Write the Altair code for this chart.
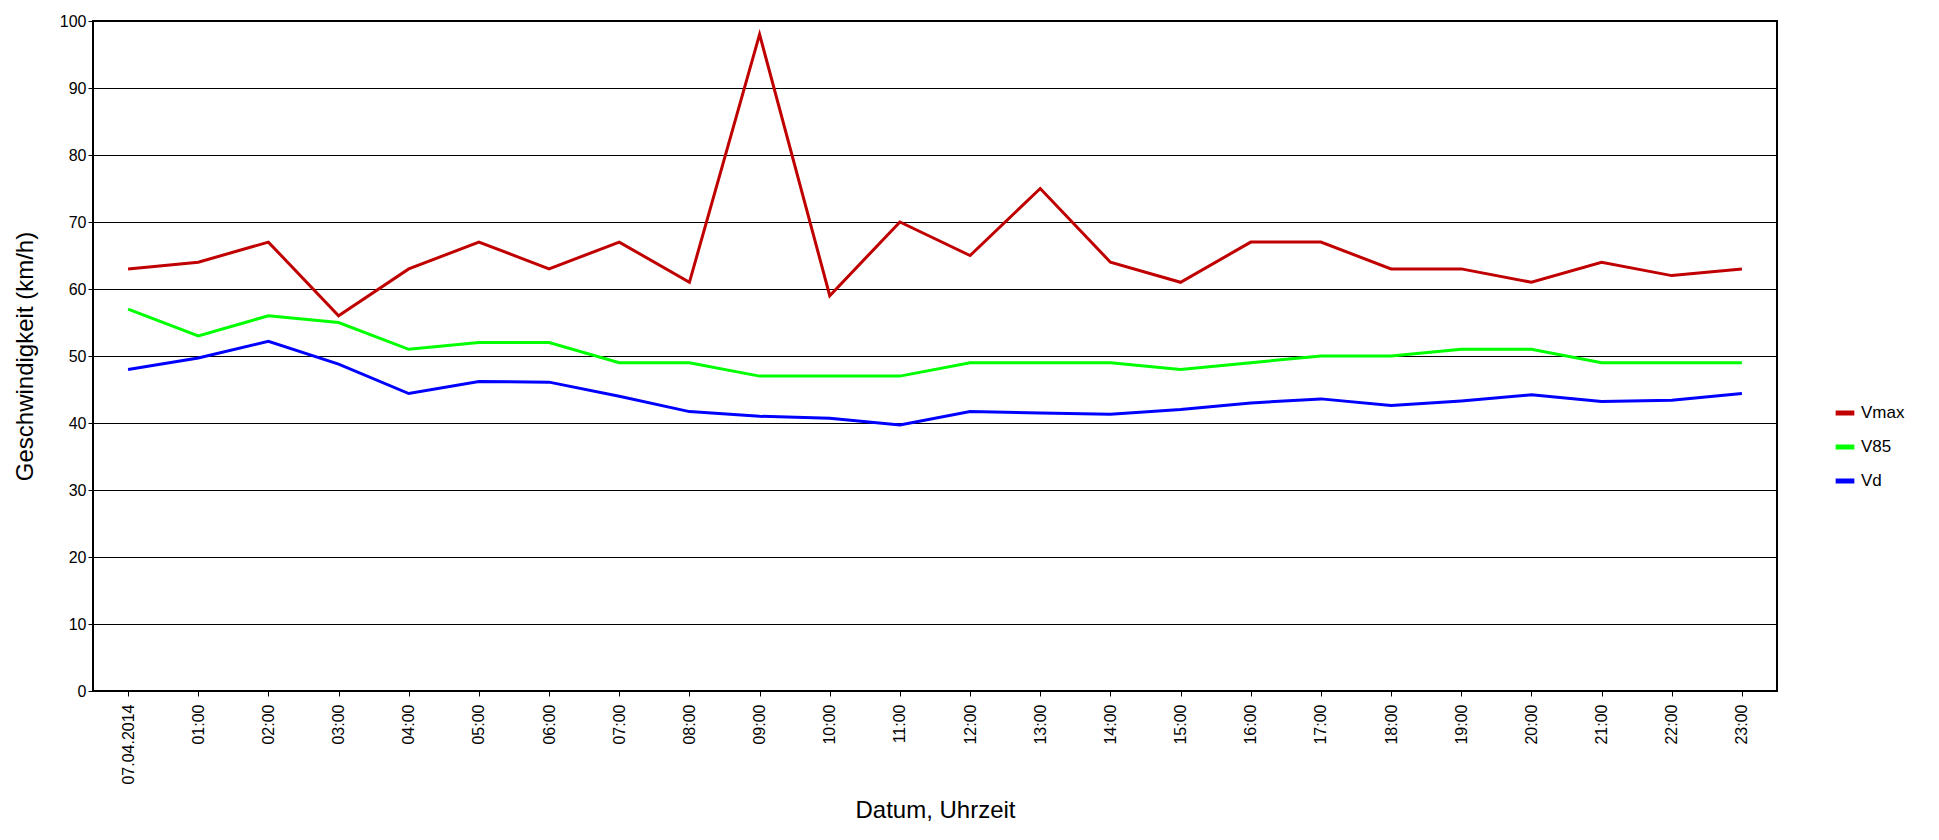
import altair as alt
import pandas as pd

times = ["07.04.2014"] + [f"{h:02d}:00" for h in range(1, 24)]
vmax = [63,64,67,56,63,67,63,67,61,98,59,70,65,75,64,61,67,67,63,63,61,64,62,63]
v85 = [57,53,56,55,51,52,52,49,49,47,47,47,49,49,49,48,49,50,50,51,51,49,49,49]
vd = [48,49.7,52.2,48.8,44.4,46.2,46.1,44,41.7,41,40.7,39.7,41.7,41.5,41.3,42,43,43.6,42.6,43.3,44.2,43.2,43.4,44.4]
series = ["Vmax", "V85", "Vd"]
colors = ["#c00000", "#00ff00", "#0000ff"]

rows = []
for name, vals in zip(series, [vmax, v85, vd]):
    for i, (t, v) in enumerate(zip(times, vals)):
        rows.append({"t": t, "i": i, "v": v, "s": name})
df = pd.DataFrame(rows)

chart = alt.Chart(df).mark_line(strokeWidth=3).encode(
    x=alt.X("t:N", sort=times, scale=alt.Scale(type="point", padding=0.5),
            axis=alt.Axis(title="Datum, Uhrzeit", labelAngle=270, labelFontSize=16,
                          titleFontSize=24, titleFontWeight="normal", titlePadding=14,
                          grid=False, tickColor="black", domainColor="black", labelColor="black",
                          labelBaseline="middle", labelAlign="right", labelPadding=8)),
    y=alt.Y("v:Q", scale=alt.Scale(domain=[0, 100]),
            axis=alt.Axis(title="Geschwindigkeit (km/h)", values=list(range(0, 101, 10)),
                          labelFontSize=16, titleFontSize=24, titleFontWeight="normal",
                          gridColor="black", gridOpacity=1, tickColor="black",
                          domainColor="black", labelColor="black", titlePadding=22)),
    color=alt.Color("s:N", sort=series, scale=alt.Scale(domain=series, range=colors),
                    legend=alt.Legend(title=None, labelFontSize=17, symbolType="stroke",
                                      symbolStrokeWidth=5, symbolSize=350, orient="none",
                                      legendX=1740, legendY=380, rowPadding=12)),
    order="i:Q",
).properties(width=1684, height=670).configure(
    font="Liberation Sans"
).configure_view(stroke="black", strokeWidth=2)

chart.save("out.html", embed_options={"renderer": "svg", "actions": False})
